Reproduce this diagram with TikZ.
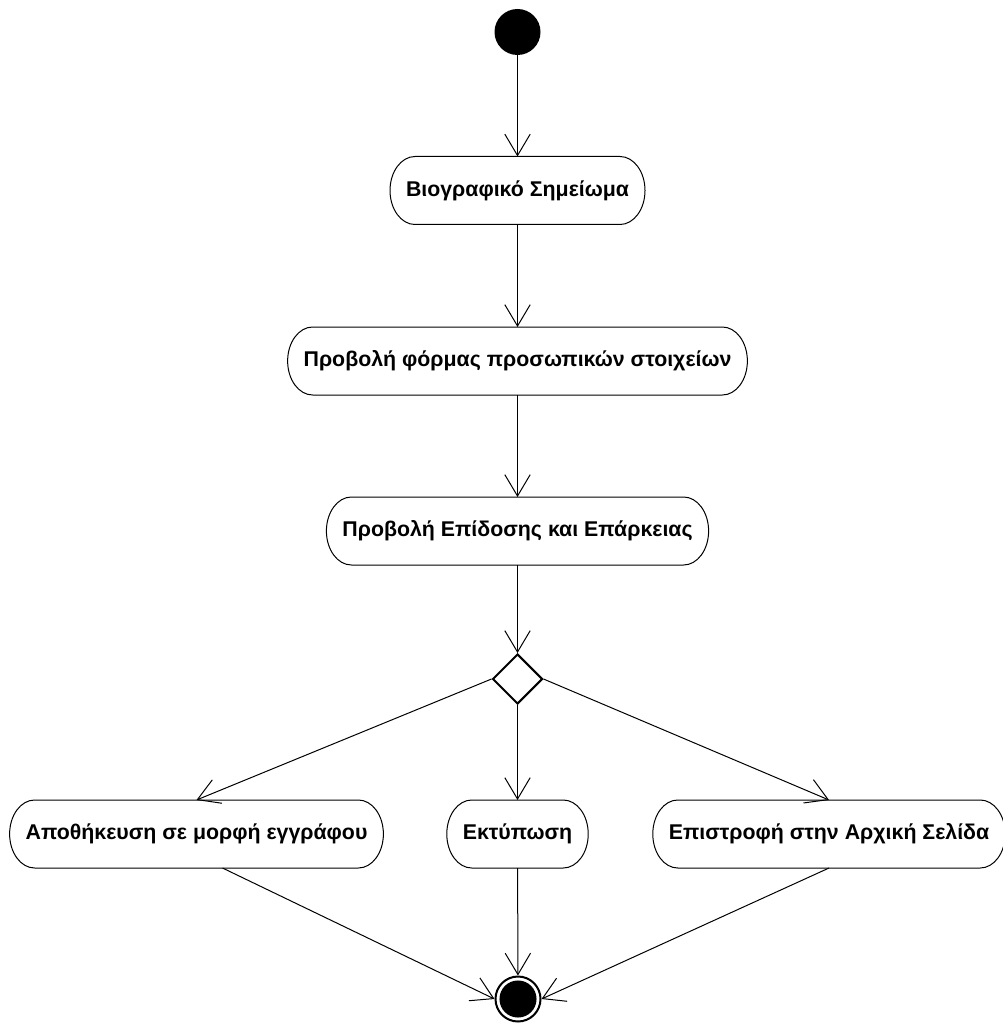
\documentclass[tikz,border=0pt]{standalone}
\usepackage{fontspec}
\setmainfont{Liberation Sans}
\usetikzlibrary{arrows.meta,shapes.geometric,calc}

% half-width and half-height of the elliptic ends of an action box
\newcommand{\caprx}{18.75pt}
\newcommand{\capry}{25.5pt}

\begin{document}
\begin{tikzpicture}[x=0.75pt,y=-0.75pt,
  every node/.style={font=\fontsize{16}{19}\selectfont\bfseries},
  action/.style={rectangle, outer sep=0pt, minimum height=51pt,
    inner xsep=12pt},
  actionframe/.style={draw, line width=0.75pt},
  decision/.style={diamond, draw, line width=1.5pt, fill=white,
    minimum width=37.5pt, minimum height=37.5pt, inner sep=0pt},
  initial/.style={circle, fill=black, minimum size=34.5pt, inner sep=0pt},
  final/.style={circle, draw, line width=1.5pt, fill=white,
    minimum size=33.75pt, inner sep=0pt},
  flow/.style={line width=0.75pt,
    -{Straight Barb[length=16pt,width=19pt,line width=0.75pt]}}]

% page area
\fill[white] (0,0) rectangle (1002,1023);
\useasboundingbox (0,0) rectangle (1002,1023);

% nodes
\node[initial] (start) at (517.5,32) {};
\node[action] (cv)   at (517.5,190.5) {Βιογραφικό Σημείωμα};
\node[action] (form) at (517.5,361)   {Προβολή φόρμας προσωπικών στοιχείων};
\node[action] (perf) at (517.5,531)   {Προβολή Επίδοσης και Επάρκειας};
\node[decision] (choice) at (517.5,679) {};
\node[action] (save)  at (196.5,834) {Αποθήκευση σε μορφή εγγράφου};
\node[action] (print) at (517.5,834) {Εκτύπωση};
\node[action] (home)  at (829,834)   {Επιστροφή στην Αρχική Σελίδα};
\node[final] (end) at (518,999) {};
\fill[black] (end.center) circle (13.9pt);

% action frames with elliptic ends
\foreach \n in {cv,form,perf,save,print,home}{
  \path[actionframe]
    ($(\n.north west)+(\caprx,0pt)$) -- ($(\n.north east)+(-\caprx,0pt)$)
    arc[start angle=90, end angle=-90, x radius=\caprx, y radius=\capry]
    -- ($(\n.south west)+(\caprx,0pt)$)
    arc[start angle=270, end angle=90, x radius=\caprx, y radius=\capry]
    -- cycle;
}

% transitions
\draw[flow] (start) -- (cv);
\draw[flow] (cv) -- (form);
\draw[flow] (form) -- (perf);
\draw[flow] (perf) -- (choice);
\draw[flow] (choice.west) -- (save.north);
\draw[flow] (choice.south) -- (print);
\draw[flow] (choice.east) -- (home.north);
\draw[flow] ($(save.south)+(26,0)$) -- (end.west);
\draw[flow] (print) -- (end);
\draw[flow] (home.south) -- (end.east);

\end{tikzpicture}
\end{document}
